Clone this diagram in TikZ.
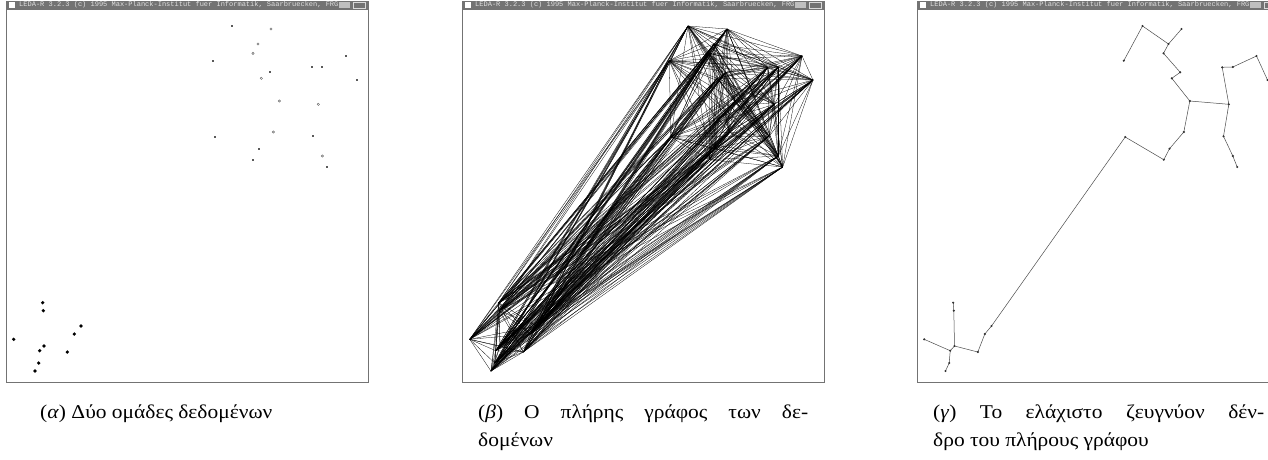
\documentclass[tikz,border=0pt]{standalone}
\usepackage{fontspec}
\setmainfont[FakeStretch=1.1]{Liberation Serif}
\newfontfamily\barfont{Liberation Mono}
\begin{document}
\begin{tikzpicture}[x=1pt,y=-1pt,
  framecol/.style={draw=black!55,line width=0.9pt},
  barfill/.style={fill=black!55},
  bartext/.style={font=\barfont\fontsize{7}{7}\selectfont,text=black!12,inner sep=0pt,anchor=west},
  doto/.style={circle,draw=black!65,fill=white,line width=0.4pt,inner sep=0pt,minimum size=2.4pt},
  dotf/.style={rectangle,fill=black!65,inner sep=0pt,minimum size=1.9pt},
  dotb/.style={circle,fill=black,inner sep=0pt,minimum size=3.6pt},
  tdot/.style={circle,fill=black!80,inner sep=0pt,minimum size=2.4pt},
  kedge/.style={draw=black,line width=0.28pt},
  tedge/.style={draw=black!70,line width=0.5pt},
  captext/.style={font=\fontsize{19.5}{22}\selectfont,inner sep=0pt,anchor=base west}]
\useasboundingbox (0,0) rectangle (1268,459);
\fill[white] (0,0) rectangle (1268,459);
\def\pts{232/26/dotf, 271/29/doto, 258/44/doto, 253/53.3/doto, 213.3/60.7/dotf,
  346/56/dotf, 311.7/67.3/dotf, 322.3/67/dotf, 269.7/72.3/dotf, 261.3/78.3/doto,
  357/80/dotf, 279.3/101/doto, 318.3/104.3/doto, 273.3/132/doto, 214.7/137/dotf,
  313/136.3/dotf, 259/148.7/dotf, 253.3/159.7/dotf, 322.3/156/doto, 326.7/167/dotf,
  42.7/302.7/dotb, 43.3/310.7/dotb, 81/326/dotb, 74.3/334/dotb, 13.7/339.3/dotb,
  44/346/dotb, 39.7/350.7/dotb, 67.3/352/dotb, 38.7/363/dotb, 35/371/dotb}
% windows
\foreach \L in {6,462,917}{
  \draw[framecol] (\L,1) rectangle (\L+362,382);
  \fill[barfill] (\L,0.5) rectangle (\L+362,9.5);
  \fill[white] (\L+2.5,2) rectangle (\L+8.5,8);
  \node[bartext] at (\L+13,5) {LEDA-R 3.2.3 (c) 1995 Max-Planck-Institut fuer Informatik, Saarbruecken, FRG};
  \fill[black!25] (\L+333,2) rectangle (\L+344,8);
  \draw[black!15,line width=0.5pt] (\L+347,2) rectangle (\L+359,8);
}
% coordinates
\foreach \x/\y/\k [count=\i] in \pts {
  \coordinate (a\i) at (\x,\y);
  \coordinate (b\i) at (\x+456,\y);
  \coordinate (c\i) at (\x+910.5,\y);
}
% panel 1: points
\foreach \x/\y/\k [count=\i] in \pts {
  \node[\k] (da\i) at (a\i) {};
}
% panel 2: complete graph
\foreach \i in {1,...,29}{
  \pgfmathtruncatemacro\jn{\i+1}
  \foreach \j in {\jn,...,30}{
    \draw[kedge] (b\i) -- (b\j);
  }
}
% panel 3: minimum spanning tree
\foreach \u/\v in {5/1,1/3,2/3,3/4,4/9,9/10,10/12,12/13,12/14,14/17,17/18,18/15,15/23,
  13/7,7/8,8/6,6/11,13/16,16/19,19/20,21/22,22/26,25/27,27/26,26/28,28/24,24/23,27/29,29/30}{
  \draw[tedge] (c\u) -- (c\v);
}
\foreach \i in {1,...,30}{
  \node[tdot] (dc\i) at (c\i) {};
}
% captions
\node[captext] (capa) at (40,418) {(\textit{α}) Δύο ομάδες δεδομένων};
\node[captext] (capb1) at (478,418) {\makebox[330pt][s]{(\textit{β}) Ο πλήρης γράφος των δε-}};
\node[captext] (capb2) at (478,446) {δομένων};
\node[captext] (capc1) at (933,418) {\makebox[331pt][s]{(\textit{γ}) Το ελάχιστο ζευγνύον δέν-}};
\node[captext] (capc2) at (933,446) {δρο του πλήρους γράφου};
\end{tikzpicture}
\end{document}
